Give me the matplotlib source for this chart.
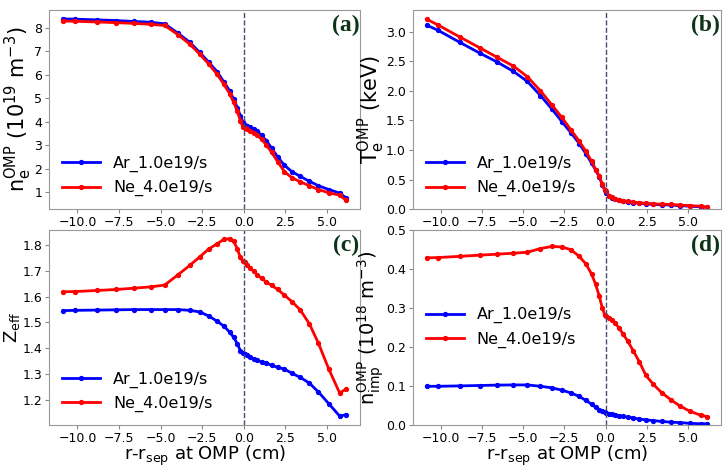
import matplotlib
matplotlib.use("Agg")
import matplotlib.pyplot as plt

# r - r_sep at OMP (cm)
x = [-10.85, -10.15, -8.85, -7.65, -6.6, -5.6, -4.75, -3.95, -3.25, -2.65, -2.1, -1.6,
     -1.2, -0.85, -0.6, -0.38, -0.2, -0.05, 0.05, 0.2, 0.38, 0.6, 0.82, 1.08, 1.36,
     1.68, 2.05, 2.45, 2.9, 3.4, 3.95, 4.5, 5.12, 5.77, 6.15]

labels = ["Ar_1.0e19/s", "Ne_4.0e19/s"]

ne_ar = [8.37, 8.36, 8.33, 8.30, 8.26, 8.23, 8.16, 7.76, 7.38, 6.95, 6.53, 6.13, 5.70,
         5.32, 4.95, 4.60, 4.25, 3.98, 3.88, 3.84, 3.79, 3.70, 3.60, 3.42, 3.20, 2.88,
         2.50, 2.15, 1.88, 1.68, 1.47, 1.28, 1.12, 0.97, 0.77]
ne_ne = [8.28, 8.27, 8.24, 8.21, 8.18, 8.14, 8.09, 7.70, 7.30, 6.88, 6.45, 6.02, 5.60,
         5.20, 4.82, 4.45, 4.05, 3.78, 3.73, 3.68, 3.62, 3.53, 3.42, 3.25, 3.02, 2.70,
         2.30, 1.88, 1.62, 1.45, 1.28, 1.12, 0.98, 0.88, 0.67]

te_ar = [3.11, 3.02, 2.82, 2.64, 2.49, 2.33, 2.16, 1.92, 1.69, 1.48, 1.29, 1.11, 0.94,
         0.78, 0.66, 0.55, 0.41, 0.33, 0.28, 0.22, 0.19, 0.165, 0.15, 0.13, 0.12, 0.11,
         0.10, 0.09, 0.08, 0.075, 0.07, 0.06, 0.05, 0.04, 0.03]
te_ne = [3.21, 3.11, 2.91, 2.73, 2.57, 2.42, 2.24, 2.00, 1.76, 1.55, 1.34, 1.15, 0.98,
         0.81, 0.67, 0.56, 0.42, 0.33, 0.30, 0.23, 0.20, 0.175, 0.16, 0.14, 0.13, 0.12,
         0.11, 0.10, 0.09, 0.085, 0.08, 0.07, 0.06, 0.05, 0.035]

zeff_ar = [1.546, 1.547, 1.548, 1.549, 1.550, 1.550, 1.550, 1.550, 1.547, 1.541, 1.525,
           1.505, 1.486, 1.463, 1.442, 1.417, 1.391, 1.382, 1.376, 1.372, 1.366, 1.359,
           1.353, 1.347, 1.342, 1.334, 1.326, 1.319, 1.303, 1.287, 1.265, 1.230, 1.185,
           1.137, 1.142]
zeff_ne = [1.619, 1.620, 1.624, 1.628, 1.633, 1.638, 1.645, 1.685, 1.721, 1.754, 1.785,
           1.805, 1.822, 1.825, 1.815, 1.785, 1.752, 1.737, 1.733, 1.723, 1.711, 1.699,
           1.684, 1.671, 1.657, 1.644, 1.628, 1.606, 1.581, 1.549, 1.495, 1.419, 1.319,
           1.227, 1.241]

nimp_ar = [0.099, 0.099, 0.100, 0.101, 0.102, 0.1025, 0.1025, 0.099, 0.095, 0.089, 0.082,
           0.073, 0.063, 0.053, 0.045, 0.039, 0.035, 0.0325, 0.030, 0.029, 0.028, 0.026,
           0.024, 0.022, 0.020, 0.018, 0.015, 0.013, 0.011, 0.009, 0.007, 0.006, 0.004,
           0.003, 0.003]
nimp_ne = [0.428, 0.429, 0.432, 0.435, 0.4375, 0.44, 0.4425, 0.452, 0.4575, 0.456, 0.449,
           0.432, 0.413, 0.387, 0.36, 0.33, 0.30, 0.282, 0.279, 0.275, 0.269, 0.2605,
           0.248, 0.232, 0.214, 0.19, 0.162, 0.127, 0.104, 0.083, 0.065, 0.049, 0.035,
           0.025, 0.0215]

xticks = [-10.0, -7.5, -5.0, -2.5, 0.0, 2.5, 5.0]


def main():
    plt.rcParams["font.family"] = ["DejaVu Sans"]
    plt.rcParams["mathtext.default"] = "regular"

    fig = plt.figure(figsize=(7.23, 4.69), dpi=100)
    boxes = [[0.068, 0.554, 0.430, 0.425], [0.571, 0.554, 0.426, 0.425],
             [0.068, 0.094, 0.430, 0.416], [0.571, 0.094, 0.426, 0.416]]
    axes = [fig.add_axes(b) for b in boxes]

    panels = [
        (ne_ar, ne_ne, r"$n_e^{OMP}$ (10$^{19}$ m$^{-3}$)", "(a)",
         list(range(1, 9)), None, None, "lower left", -0.048, 15),
        (te_ar, te_ne, r"$T_e^{OMP}$ (keV)", "(b)",
         [0, 0.5, 1.0, 1.5, 2.0, 2.5, 3.0], ["0.0", "0.5", "1.0", "1.5", "2.0", "2.5", "3.0"],
         (0, None), "lower left", -0.085, 15),
        (zeff_ar, zeff_ne, r"$Z_{eff}$", "(c)",
         [1.2, 1.3, 1.4, 1.5, 1.6, 1.7, 1.8], None, None, "lower left", -0.088, 13),
        (nimp_ar, nimp_ne, r"$n_{imp}^{OMP}$ (10$^{18}$ m$^{-3}$)", "(d)",
         [0, 0.1, 0.2, 0.3, 0.4, 0.5], ["0.0", "0.1", "0.2", "0.3", "0.4", "0.5"],
         (0, 0.5), "center left", -0.087, 14),
    ]

    for i, (ax, (ar, ne, ylab, tag, yt, ytl, ylim, loc, lx, lsize)) in enumerate(zip(axes, panels)):
        ax.plot(x, ar, color="blue", marker="o", markersize=2.8, linewidth=2, label=labels[0])
        ax.plot(x, ne, color="red", marker="o", markersize=2.8, linewidth=2, label=labels[1])
        ax.axvline(0, color="#4a4a6a", linestyle="--", linewidth=1)
        ax.set_xticks(xticks)
        ax.set_yticks(yt)
        if ytl is not None:
            ax.set_yticklabels(ytl)
        if ylim is not None:
            ax.set_ylim(*ylim)
        ax.tick_params(labelsize=9, length=3, color="#888888", pad=2)
        for s in ax.spines.values():
            s.set_color("#999999")
        ax.set_ylabel(ylab, fontsize=lsize)
        ax.yaxis.set_label_coords(lx, 0.5)
        if i >= 2:
            ax.set_xlabel(r"r-r$_{sep}$ at OMP (cm)", fontsize=13, labelpad=-0.5)
        ax.legend(loc=loc, frameon=False, fontsize=11.5, handlelength=2.4,
                  borderaxespad=0.4, labelspacing=0.5)
        ax.text(0.998, 0.975, tag, transform=ax.transAxes, ha="right", va="top",
                fontsize=17, fontweight="bold", family="Liberation Serif", color="#0b3318")

    fig.savefig("out.png", dpi=100)


if __name__ == "__main__":
    main()
